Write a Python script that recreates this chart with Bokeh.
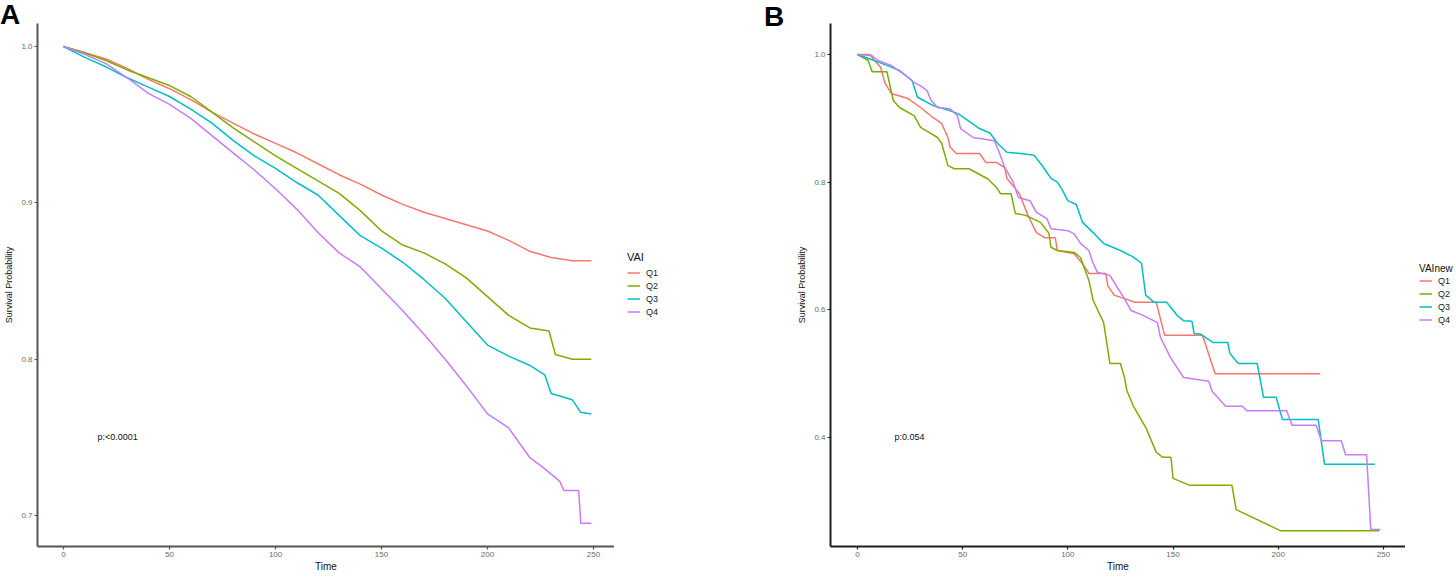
from bokeh.plotting import figure
from bokeh.models import Legend, LegendItem, Range1d, FixedTicker, PrintfTickFormatter, Div
from bokeh.layouts import row
from bokeh.embed import file_html
from bokeh.resources import INLINE
from bokeh.core.properties import value

groups = ["Q1", "Q2", "Q3", "Q4"]
colors = ["#F8766D", "#7CAE00", "#00BFC4", "#C77CFF"]
x_ticks = [0, 50, 100, 150, 200, 250]

# ---------------- Panel A (VAI) ----------------
a_q1_t = [0, 10, 20, 30, 40, 50, 60, 70, 80, 90, 100, 110, 120, 130, 140, 150, 160, 170, 180, 190, 200, 210, 220, 230, 240, 249]
a_q1_s = [1.000, 0.996, 0.992, 0.986, 0.979, 0.973, 0.966, 0.958, 0.951, 0.944, 0.938, 0.932, 0.925, 0.918, 0.912, 0.905, 0.899, 0.894, 0.890, 0.886, 0.882, 0.876, 0.869, 0.865, 0.863, 0.863]
a_q2_t = [0, 10, 20, 30, 40, 50, 60, 70, 80, 90, 100, 110, 120, 130, 140, 150, 160, 170, 180, 190, 200, 210, 220, 229, 232, 240, 249]
a_q2_s = [1.000, 0.996, 0.991, 0.985, 0.980, 0.975, 0.968, 0.958, 0.948, 0.939, 0.930, 0.922, 0.914, 0.906, 0.895, 0.882, 0.873, 0.868, 0.861, 0.852, 0.840, 0.828, 0.820, 0.818, 0.803, 0.800, 0.800]
a_q3_t = [0, 10, 20, 30, 40, 50, 60, 70, 80, 90, 100, 110, 120, 130, 140, 150, 160, 170, 180, 190, 200, 210, 220, 227, 230, 240, 244, 249]
a_q3_s = [1.000, 0.993, 0.987, 0.980, 0.974, 0.968, 0.960, 0.951, 0.940, 0.930, 0.922, 0.913, 0.905, 0.892, 0.879, 0.871, 0.862, 0.851, 0.839, 0.824, 0.809, 0.802, 0.796, 0.790, 0.778, 0.774, 0.766, 0.765]
a_q4_t = [0, 10, 20, 30, 40, 50, 60, 70, 80, 90, 100, 110, 120, 130, 140, 150, 160, 170, 180, 190, 200, 210, 220, 226, 234, 236, 243, 244, 249]
a_q4_s = [1.000, 0.995, 0.989, 0.980, 0.970, 0.963, 0.954, 0.943, 0.932, 0.921, 0.909, 0.896, 0.881, 0.868, 0.859, 0.845, 0.831, 0.816, 0.800, 0.783, 0.765, 0.756, 0.737, 0.731, 0.722, 0.716, 0.716, 0.695, 0.695]
a_y_ticks = [0.7, 0.8, 0.9, 1.0]
a_pval = "p:<0.0001"
a_legend_title = "VAI"

# ---------------- Panel B (VAInew) ----------------
b_q1_t = [0, 6, 8, 11, 13, 16, 24, 30, 36, 40, 43, 44, 47, 58, 61, 66, 70, 71, 77, 81, 85, 89, 94, 95, 103, 107, 110, 118, 119, 122, 132, 142, 146, 164, 170, 220]
b_q1_s = [1.0, 1.0, 0.991, 0.980, 0.956, 0.939, 0.931, 0.917, 0.901, 0.892, 0.870, 0.855, 0.845, 0.845, 0.831, 0.831, 0.823, 0.806, 0.782, 0.748, 0.721, 0.713, 0.713, 0.693, 0.688, 0.672, 0.657, 0.657, 0.638, 0.623, 0.612, 0.612, 0.560, 0.560, 0.500, 0.500]
b_q2_t = [0, 5, 7, 14, 17, 20, 27, 30, 34, 38, 40, 43, 46, 53, 62, 66, 68, 73, 75, 80, 87, 91, 92, 95, 103, 106, 110, 112, 117, 120, 125, 127, 128, 131, 137, 142, 145, 149, 150, 158, 178, 180, 201, 248]
b_q2_s = [1.0, 0.991, 0.973, 0.973, 0.928, 0.917, 0.904, 0.886, 0.878, 0.870, 0.861, 0.826, 0.821, 0.821, 0.805, 0.792, 0.782, 0.782, 0.751, 0.748, 0.737, 0.720, 0.698, 0.693, 0.690, 0.682, 0.646, 0.615, 0.580, 0.516, 0.516, 0.493, 0.474, 0.450, 0.416, 0.377, 0.369, 0.369, 0.336, 0.325, 0.325, 0.287, 0.254, 0.254]
b_q3_t = [0, 6, 14, 20, 26, 28.5, 31.5, 36, 44, 48, 58, 63, 66.5, 71, 77.5, 84, 88, 92, 95, 97, 100, 104, 107, 112, 117, 125, 131, 135, 137, 141, 147, 152, 155, 159, 160, 163, 169, 176, 177, 181, 190, 193, 199, 202, 219, 222, 246]
b_q3_s = [1.0, 0.993, 0.983, 0.975, 0.959, 0.933, 0.928, 0.920, 0.912, 0.907, 0.884, 0.877, 0.861, 0.847, 0.845, 0.842, 0.825, 0.806, 0.800, 0.790, 0.771, 0.765, 0.737, 0.721, 0.704, 0.693, 0.683, 0.673, 0.623, 0.612, 0.612, 0.591, 0.583, 0.582, 0.563, 0.562, 0.549, 0.549, 0.532, 0.516, 0.516, 0.463, 0.463, 0.428, 0.428, 0.358, 0.358]
b_q4_t = [0, 7, 9.5, 16, 23, 27, 30, 33, 35, 38, 44, 47.5, 49, 55, 65, 67, 70, 74, 76.5, 82, 85, 90, 92, 100, 103, 106, 110, 112, 114, 120, 123.5, 126.5, 130, 136, 142.6, 144, 149, 155, 167, 168.6, 172, 175, 183, 185, 204, 206.6, 218, 220.5, 230, 232, 242, 244, 248.6]
b_q4_s = [1.0, 0.998, 0.991, 0.983, 0.967, 0.956, 0.951, 0.944, 0.928, 0.917, 0.915, 0.904, 0.884, 0.870, 0.865, 0.850, 0.823, 0.800, 0.776, 0.771, 0.753, 0.743, 0.727, 0.724, 0.719, 0.704, 0.693, 0.673, 0.659, 0.654, 0.635, 0.620, 0.599, 0.591, 0.580, 0.557, 0.524, 0.494, 0.488, 0.472, 0.460, 0.449, 0.449, 0.442, 0.442, 0.419, 0.419, 0.395, 0.395, 0.373, 0.373, 0.256, 0.256]
b_y_ticks = [0.4, 0.6, 0.8, 1.0]
b_pval = "p:0.054"
b_legend_title = "VAInew"

FONT = "Liberation Sans"
HEIGHT = 574
TOP = 23
BOTTOM = 27


def make_panel(series, x_range, y_range, y_ticks, pval, pval_xy, width, axis_color):
    p = figure(width=width, height=HEIGHT, output_backend="svg", toolbar_location=None,
               x_range=Range1d(*x_range), y_range=Range1d(*y_range),
               min_border_left=37, min_border_right=0,
               min_border_top=TOP, min_border_bottom=BOTTOM)
    p.outline_line_color = None
    p.xgrid.visible = False
    p.ygrid.visible = False
    p.background_fill_color = "white"
    p.border_fill_color = "white"

    for (t, s), col in zip(series, colors):
        p.line(t, s, line_color=col, line_width=1.5)

    for ax in (p.xaxis[0], p.yaxis[0]):
        ax.axis_line_color = axis_color
        ax.axis_line_width = 2
        ax.major_tick_line_color = axis_color
        ax.major_tick_line_width = 1.2
        ax.major_tick_out = 3
        ax.major_tick_in = 0
        ax.minor_tick_line_color = None
        ax.major_label_text_color = "#6b6b6b"
        ax.major_label_text_font = FONT
        ax.major_label_text_font_size = "8px"
        ax.axis_label_text_font = FONT
        ax.axis_label_text_font_style = "normal"
        ax.axis_label_text_color = "#111111"
    p.xaxis.ticker = FixedTicker(ticks=x_ticks)
    p.yaxis.ticker = FixedTicker(ticks=y_ticks)
    p.yaxis.formatter = PrintfTickFormatter(format="%.1f")
    p.xaxis.axis_label = "Time"
    p.xaxis.axis_label_text_font_size = "10px"
    p.xaxis.major_label_standoff = 2
    p.xaxis.axis_label_standoff = 1
    p.yaxis.axis_label = "Survival Probability"
    p.yaxis.axis_label_text_font_size = "9px"
    p.yaxis.major_label_standoff = 2
    p.yaxis.axis_label_standoff = 4

    p.text(x=[pval_xy[0]], y=[pval_xy[1]], text=[pval], text_font=value(FONT),
           text_font_size="9px", text_color="#111111", text_align="left",
           text_baseline="middle")
    return p


def legend_panel(series, width, title, leg_x, leg_y, title_size, title_standoff):
    # the series are drawn far outside this panel's ranges: only their legend swatches show
    f = figure(width=width, height=HEIGHT, output_backend="svg", toolbar_location=None,
               x_axis_location=None, y_axis_location=None, min_border=0,
               x_range=Range1d(1000, 1001), y_range=Range1d(1000, 1001))
    f.outline_line_color = None
    f.background_fill_color = "white"
    f.border_fill_color = "white"
    f.xgrid.visible = False
    f.ygrid.visible = False
    items = []
    for (t, s), name, col in zip(series, groups, colors):
        r = f.line(t, s, line_color=col, line_width=1.5)
        items.append(LegendItem(label=name, renderers=[r]))
    legend = Legend(items=items, title=title, location=(leg_x, leg_y),
                    margin=0, padding=0, spacing=0, label_height=13,
                    glyph_height=13, glyph_width=13, label_standoff=6,
                    border_line_color=None, background_fill_alpha=0)
    legend.title_text_font = FONT
    legend.title_text_font_size = title_size
    legend.title_text_font_style = "normal"
    legend.title_text_color = "#111111"
    legend.title_standoff = title_standoff
    legend.label_text_font = FONT
    legend.label_text_font_size = "9px"
    legend.label_text_color = "#222222"
    f.add_layout(legend)
    return f


def letter(text, left, top):
    return Div(text=text, width=30, height=30,
               styles={"position": "absolute", "left": f"{left}px", "top": f"{top}px",
                       "font-family": FONT, "font-size": "28px", "font-weight": "bold",
                       "line-height": "1", "color": "black", "margin": "0", "padding": "0"})


series_a = [(a_q1_t, a_q1_s), (a_q2_t, a_q2_s), (a_q3_t, a_q3_s), (a_q4_t, a_q4_s)]
series_b = [(b_q1_t, b_q1_s), (b_q2_t, b_q2_s), (b_q3_t, b_q3_s), (b_q4_t, b_q4_s)]

pA = make_panel(series_a, (-12.3, 259.9), (0.6802, 1.0147), a_y_ticks, a_pval, (16, 0.75),
                width=614, axis_color="#555555")
legA = legend_panel(series_a, 179, a_legend_title, 13, 228, "11px", 3)

pB = make_panel(series_b, (-12.83, 260.5), (0.2292, 1.0486), b_y_ticks, b_pval, (17.6, 0.4),
                width=612, axis_color="#1f1f1f")
legB = legend_panel(series_b, 49, b_legend_title, 14, 220, "10px", 0)

layout = row(pA, legA, pB, legB, letter("A", 0, 1), letter("B", 764, 3))
open("out.html", "w").write(file_html(layout, INLINE))
